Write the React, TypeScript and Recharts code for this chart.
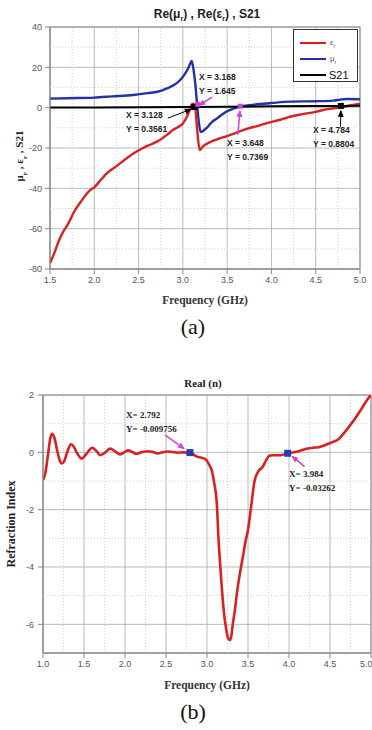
import React from 'react';
import {
  LineChart,
  Line,
  XAxis,
  YAxis,
  CartesianGrid,
  ReferenceLine,
  ReferenceDot,
  ReferenceArea,
  Legend,
} from 'recharts';

// ---------- Panel (a): Re(mu_r), Re(eps_r), S21 ----------
const epsFreq = [1.5, 1.55, 1.6, 1.65, 1.7, 1.78, 1.85, 1.95, 2.0, 2.07, 2.14, 2.25, 2.37, 2.45, 2.55, 2.65, 2.74, 2.82, 2.89, 2.95, 3.0, 3.04, 3.07, 3.1, 3.12, 3.14, 3.16, 3.19, 3.22, 3.31, 3.4, 3.49, 3.6, 3.72, 3.85, 3.98, 4.1, 4.21, 4.35, 4.51, 4.6, 4.7, 4.8, 4.9, 5.0];
const epsValues = [-77, -72, -66, -61.5, -58, -51, -46.5, -41, -39.5, -36, -32.6, -29, -25, -22.5, -20, -18, -16, -13.5, -11, -9.5, -7.8, -5, -2, 1.5, 2.0, 0, -10, -21, -19.5, -17, -15.5, -14.2, -12.5, -10.5, -9, -7.3, -6, -4.5, -3.2, -2, -1, -0.3, 0.3, 1.2, 2];

const muFreq = [1.5, 1.7, 2.0, 2.2, 2.44, 2.6, 2.74, 2.82, 2.9, 2.97, 3.02, 3.06, 3.09, 3.1, 3.12, 3.14, 3.16, 3.18, 3.2, 3.23, 3.27, 3.33, 3.38, 3.44, 3.49, 3.57, 3.65, 3.75, 3.87, 4.0, 4.21, 4.5, 4.7, 4.78, 4.85, 5.0];
const muValues = [4.5, 4.7, 5.0, 5.6, 6.3, 7.2, 8.2, 9.6, 11.2, 13.7, 16.5, 19.5, 22.5, 23.2, 19, 12, 2, -7, -12, -11.5, -10, -7, -5.5, -3.5, -2, -0.5, 0.5, 1.2, 1.8, 2.3, 3, 3.2, 3.5, 4, 4.3, 4.2];

const s21Freq = [1.5, 2.0, 2.5, 3.0, 3.128, 3.5, 4.0, 4.5, 4.784, 5.0];
const s21Values = [0.1, 0.12, 0.2, 0.3, 0.3561, 0.5, 0.7, 0.8, 0.8804, 0.9];

const xTicksA = [1.5, 2.0, 2.5, 3.0, 3.5, 4.0, 4.5, 5.0];
const xMinorA = [1.75, 2.25, 2.75, 3.25, 3.75, 4.25, 4.75];
const yTicksA = [-80, -60, -40, -20, 0, 20, 40];
const yMinorA = [-70, -50, -30, -10, 10, 30];

// marker read-outs on panel (a)
const blackMarkersA = [
  { x: 3.128, y: 0.3561 },
  { x: 4.784, y: 0.8804 },
];
const pinkMarkersA = [
  { x: 3.168, y: 1.645 },
  { x: 3.648, y: 0.7369 },
];

// ---------- Panel (b): Real(n) ----------
const nFreq = [1.0, 1.03, 1.06, 1.09, 1.11, 1.14, 1.17, 1.2, 1.23, 1.26, 1.3, 1.34, 1.37, 1.41, 1.47, 1.53, 1.6, 1.65, 1.7, 1.76, 1.82, 1.88, 1.94, 1.99, 2.04, 2.09, 2.14, 2.2, 2.27, 2.33, 2.4, 2.46, 2.52, 2.58, 2.64, 2.7, 2.792, 2.87, 2.95, 2.99, 3.03, 3.06, 3.09, 3.12, 3.14, 3.16, 3.18, 3.2, 3.23, 3.26, 3.28, 3.3, 3.31, 3.34, 3.37, 3.4, 3.44, 3.47, 3.5, 3.54, 3.58, 3.63, 3.68, 3.72, 3.76, 3.8, 3.9, 3.984, 4.06, 4.13, 4.2, 4.29, 4.36, 4.41, 4.48, 4.55, 4.6, 4.65, 4.72, 4.8, 4.88, 4.95, 5.0];
const nValues = [-0.97, -0.7, -0.1, 0.5, 0.65, 0.5, 0.1, -0.25, -0.39, -0.3, 0.05, 0.28, 0.22, 0.0, -0.22, -0.05, 0.16, 0.05, -0.1, 0.0, 0.13, 0.03, -0.07, 0.0, 0.07, 0.01, -0.05, 0.0, 0.04, 0.02, -0.04, 0.0, 0.03, 0.01, -0.01, 0.0, -0.009756, -0.14, -0.2, -0.26, -0.45, -0.65, -1.1, -1.8, -3.0, -3.9, -4.7, -5.4, -6.1, -6.5, -6.55, -6.35, -6.1, -5.5, -4.8, -4.25, -3.6, -3.1, -2.7, -1.85, -1.0, -0.65, -0.5, -0.28, -0.12, -0.1, -0.1, -0.03262, 0.0, 0.05, 0.12, 0.16, 0.18, 0.22, 0.3, 0.38, 0.45, 0.6, 0.85, 1.15, 1.5, 1.82, 2.0];

const xTicksB = [1.0, 1.5, 2.0, 2.5, 3.0, 3.5, 4.0, 4.5, 5.0];
const xMinorB = [1.25, 1.75, 2.25, 2.75, 3.25, 3.75, 4.25, 4.75];
const yTicksB = [-6, -4, -2, 0, 2];
const yMinorB = [-7, -5, -3, -1, 1];

const blueMarkersB = [
  { x: 2.792, y: -0.009756 },
  { x: 3.984, y: -0.03262 },
];

const zip = (xs: number[], ys: number[]) => xs.map((f, i) => ({ f, v: ys[i] }));
const epsData = zip(epsFreq, epsValues);
const muData = zip(muFreq, muValues);
const s21Data = zip(s21Freq, s21Values);
const nData = zip(nFreq, nValues);

const RED = '#dc1f1f';
const BLUE = '#2232a8';
const PINK = '#c848d0';
const SANS = '"Liberation Sans", Arial, sans-serif';
const SERIF = '"Liberation Serif", "Times New Roman", serif';

const tickStyle = { fontFamily: SANS, fontSize: 9, fill: '#555' };
const majorGrid = '#a8a8a8';
const minorGrid = '#cfcfcf';

const squareShape = (size: number, fill: string) => (props: any) => (
  <rect x={props.cx - size / 2} y={props.cy - size / 2} width={size} height={size} fill={fill} />
);

const legendItems = [
  { sym: 'ε', color: RED },
  { sym: 'μ', color: BLUE },
  { sym: 'S21', color: '#000' },
];

const LegendBox = () => (
  <div
    style={{
      width: 65,
      height: 53,
      boxSizing: 'border-box',
      border: '1px solid #333',
      background: '#fff',
      padding: '5px 0 0 6px',
    }}
  >
    {legendItems.map((it) => (
      <div key={it.sym} style={{ display: 'flex', alignItems: 'center', height: 16 }}>
        <div style={{ width: 26, height: 2.5, background: it.color }} />
        {it.sym === 'S21' ? (
          <span style={{ fontFamily: SANS, fontSize: 11, marginLeft: 3, color: '#111' }}>S21</span>
        ) : (
          <span style={{ fontFamily: SANS, fontSize: 8, marginLeft: 4, color: '#555' }}>
            {it.sym}
            <sub style={{ fontSize: 5 }}>r</sub>
          </span>
        )}
      </div>
    ))}
  </div>
);

const Note = ({ x, y, lines, font, size }: { x: number; y: number; lines: string[]; font: string; size: number }) => (
  <div
    style={{
      position: 'absolute',
      left: x,
      top: y,
      fontFamily: font,
      fontWeight: 'bold',
      fontSize: size,
      lineHeight: '14px',
      color: '#222',
      whiteSpace: 'nowrap',
    }}
  >
    {lines.map((l) => (
      <div key={l}>{l}</div>
    ))}
  </div>
);

const abs = (extra: React.CSSProperties): React.CSSProperties => ({
  position: 'absolute',
  whiteSpace: 'nowrap',
  ...extra,
});

export default function App() {
  return (
    <div style={{ position: 'absolute', left: 0, top: 0, width: 372, height: 730, background: '#fff', overflow: 'hidden' }}>
      <svg width={0} height={0} style={{ position: 'absolute' }}>
        <defs>
          <marker id="ahBlack" markerWidth={7} markerHeight={6} refX={6} refY={3} orient="auto" markerUnits="userSpaceOnUse">
            <path d="M0,0 L7,3 L0,6 z" fill="#000" />
          </marker>
          <marker id="ahPink" markerWidth={7} markerHeight={6} refX={6} refY={3} orient="auto" markerUnits="userSpaceOnUse">
            <path d="M0,0 L7,3 L0,6 z" fill={PINK} />
          </marker>
        </defs>
      </svg>

      {/* ---------------- panel (a) ---------------- */}
      <div style={{ position: 'absolute', left: 0, top: 0 }}>
        <LineChart width={372} height={300} margin={{ top: 27, right: 12, bottom: 1, left: 0 }}>
          <CartesianGrid stroke={majorGrid} strokeWidth={0.8} />
          {xMinorA.map((v) => (
            <ReferenceLine key={'xa' + v} x={v} stroke={minorGrid} strokeDasharray="1 2" />
          ))}
          {yMinorA.map((v) => (
            <ReferenceLine key={'ya' + v} y={v} stroke={minorGrid} strokeDasharray="1 2" />
          ))}
          <ReferenceArea x1={1.5} x2={5} y1={-80} y2={40} fill="none" stroke="#8a8a8a" strokeWidth={1} />
          <XAxis
            dataKey="f"
            type="number"
            domain={[1.5, 5]}
            ticks={xTicksA}
            tickFormatter={(v: number) => v.toFixed(1)}
            allowDataOverflow
            height={30}
            tick={tickStyle}
            tickSize={5}
            tickMargin={3}
            stroke="#8a8a8a"
          />
          <YAxis
            type="number"
            domain={[-80, 40]}
            ticks={yTicksA}
            allowDataOverflow
            width={50}
            tick={tickStyle}
            tickSize={5}
            tickMargin={3}
            stroke="#8a8a8a"
          />
          <Legend
            layout="vertical"
            align="center"
            verticalAlign="middle"
            content={() => <LegendBox />}
            wrapperStyle={{ left: 293, top: 29, width: 65, height: 53 }}
          />
          <Line data={muData} dataKey="v" type="monotone" stroke={BLUE} strokeWidth={2.4} dot={false} isAnimationActive={false} />
          <Line data={epsData} dataKey="v" type="monotone" stroke={RED} strokeWidth={2.4} dot={false} isAnimationActive={false} />
          <Line data={s21Data} dataKey="v" type="linear" stroke="#000" strokeWidth={2} dot={false} isAnimationActive={false} />
          <ReferenceLine segment={[{ x: 2.83, y: -5.2 }, { x: 3.09, y: -0.8 }]} stroke="#000" strokeWidth={1} markerEnd="url(#ahBlack)" />
          <ReferenceLine segment={[{ x: 3.33, y: 5.2 }, { x: 3.185, y: 1.2 }]} stroke={PINK} strokeWidth={1.5} markerEnd="url(#ahPink)" />
          <ReferenceLine segment={[{ x: 3.62, y: -13.5 }, { x: 3.645, y: -1.6 }]} stroke={PINK} strokeWidth={1.5} markerEnd="url(#ahPink)" />
          <ReferenceLine segment={[{ x: 4.78, y: -9.5 }, { x: 4.784, y: -1.6 }]} stroke="#000" strokeWidth={1} markerEnd="url(#ahBlack)" />
          {blackMarkersA.map((m) => (
            <ReferenceDot key={'bm' + m.x} x={m.x} y={m.y} r={3} shape={squareShape(6, '#000')} />
          ))}
          {pinkMarkersA.map((m) => (
            <ReferenceDot key={'pm' + m.x} x={m.x} y={m.y} r={3} shape={squareShape(5, PINK)} />
          ))}
        </LineChart>
      </div>

      <div style={abs({ left: 0, width: 414, top: 7, textAlign: 'center', fontFamily: SANS, fontWeight: 'bold', fontSize: 12, color: '#222' })}>
        Re(μ<sub style={{ fontSize: 7 }}>r</sub>) , Re(ε<sub style={{ fontSize: 7 }}>r</sub>) , S21
      </div>
      <div
        style={abs({
          left: 21,
          top: 156,
          transform: 'translate(-50%, -50%) rotate(-90deg)',
          fontFamily: SERIF,
          fontWeight: 'bold',
          fontSize: 11,
          color: '#222',
        })}
      >
        μ<sub style={{ fontSize: 7 }}>r</sub> , ε<sub style={{ fontSize: 7 }}>r</sub> , S21
      </div>
      <div style={abs({ left: 0, width: 410, top: 294, textAlign: 'center', fontFamily: SERIF, fontWeight: 'bold', fontSize: 11.5, color: '#333' })}>
        Frequency (GHz)
      </div>
      <div style={abs({ left: 0, width: 386, top: 314, textAlign: 'center', fontFamily: SERIF, fontSize: 22, color: '#111' })}>(a)</div>

      <Note x={199} y={70} lines={['X = 3.168', 'Y = 1.645']} font={SANS} size={8.5} />
      <Note x={126} y={108} lines={['X = 3.128', 'Y = 0.3561']} font={SANS} size={8.5} />
      <Note x={227} y={136} lines={['X = 3.648', 'Y = 0.7369']} font={SANS} size={8.5} />
      <Note x={313} y={123} lines={['X = 4.784', 'Y = 0.8804']} font={SANS} size={8.5} />

      {/* ---------------- panel (b) ---------------- */}
      <div style={{ position: 'absolute', left: 0, top: 370 }}>
        <LineChart width={372} height={315} margin={{ top: 25, right: 1, bottom: 2, left: 0 }}>
          <CartesianGrid stroke={majorGrid} strokeWidth={0.8} />
          {xMinorB.map((v) => (
            <ReferenceLine key={'xb' + v} x={v} stroke={minorGrid} strokeDasharray="1 2" />
          ))}
          {yMinorB.map((v) => (
            <ReferenceLine key={'yb' + v} y={v} stroke={minorGrid} strokeDasharray="1 2" />
          ))}
          <ReferenceArea x1={1} x2={5} y1={-7} y2={2} fill="none" stroke="#8a8a8a" strokeWidth={1} />
          <XAxis
            dataKey="f"
            type="number"
            domain={[1, 5]}
            ticks={xTicksB}
            tickFormatter={(v: number) => v.toFixed(1)}
            allowDataOverflow
            height={30}
            tick={tickStyle}
            tickSize={5}
            tickMargin={3}
            stroke="#8a8a8a"
          />
          <YAxis
            type="number"
            domain={[-7, 2]}
            ticks={yTicksB}
            allowDataOverflow
            width={43}
            tick={tickStyle}
            tickSize={5}
            tickMargin={4}
            stroke="#8a8a8a"
          />
          <Line data={nData} dataKey="v" type="monotone" stroke={RED} strokeWidth={2.6} dot={false} isAnimationActive={false} />
          <ReferenceLine segment={[{ x: 2.49, y: 0.6 }, { x: 2.72, y: 0.13 }]} stroke={PINK} strokeWidth={1.5} markerEnd="url(#ahPink)" />
          <ReferenceLine segment={[{ x: 4.19, y: -0.5 }, { x: 4.04, y: -0.14 }]} stroke={PINK} strokeWidth={1.5} markerEnd="url(#ahPink)" />
          {blueMarkersB.map((m) => (
            <ReferenceDot key={'nb' + m.x} x={m.x} y={m.y} r={3.5} shape={squareShape(7, '#2a3cb0')} />
          ))}
        </LineChart>
      </div>

      <div style={abs({ left: 0, width: 406, top: 377, textAlign: 'center', fontFamily: SERIF, fontWeight: 'bold', fontSize: 11, color: '#222' })}>
        Real (n)
      </div>
      <div
        style={abs({
          left: 11,
          top: 524,
          transform: 'translate(-50%, -50%) rotate(-90deg)',
          fontFamily: SERIF,
          fontWeight: 'bold',
          fontSize: 12,
          color: '#222',
        })}
      >
        Refraction Index
      </div>
      <div style={abs({ left: 0, width: 414, top: 679, textAlign: 'center', fontFamily: SERIF, fontWeight: 'bold', fontSize: 11.5, color: '#333' })}>
        Frequency (GHz)
      </div>
      <div style={abs({ left: 0, width: 386, top: 699, textAlign: 'center', fontFamily: SERIF, fontSize: 22, color: '#111' })}>(b)</div>

      <Note x={126} y={408} lines={['X= 2.792', 'Y= -0.009756']} font={SERIF} size={9} />
      <Note x={289} y={467} lines={['X= 3.984', 'Y= -0.03262']} font={SERIF} size={9} />
    </div>
  );
}
